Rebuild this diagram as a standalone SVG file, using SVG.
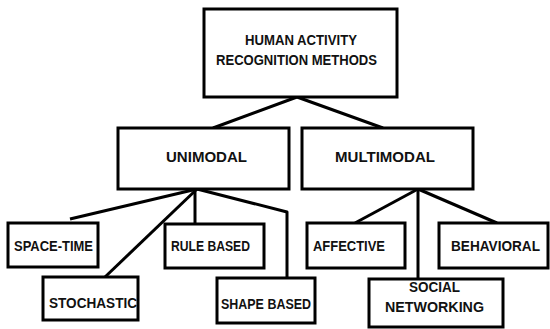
<svg xmlns="http://www.w3.org/2000/svg" width="550" height="329" viewBox="0 0 550 329">
  <style>
    .box { fill: #ffffff; stroke: #000000; stroke-width: 3; }
    .lbl { font-family: "Liberation Sans", Arial, sans-serif; font-weight: bold; font-size: 14px; fill: #111111; }
    .link { fill: none; stroke: #000000; stroke-width: 3; stroke-linejoin: round; }
  </style>
  <rect width="550" height="329" fill="#ffffff"/>

  <g id="connectors">
    <polyline class="link" points="213,128 297,97 383,128"/>
    <line class="link" x1="197" y1="189" x2="70" y2="219"/>
    <line class="link" x1="197" y1="189" x2="105" y2="277"/>
    <line class="link" x1="195" y1="189" x2="195" y2="224"/>
    <polyline class="link" points="197,189 287,212 287,278"/>
    <line class="link" x1="418" y1="189" x2="355" y2="223"/>
    <line class="link" x1="418" y1="189" x2="418" y2="279"/>
    <line class="link" x1="418" y1="189" x2="497" y2="223"/>
  </g>

  <g id="root">
    <rect class="box" x="204" y="9" width="193" height="88"/>
    <text class="lbl" x="245" y="45" textLength="112" lengthAdjust="spacingAndGlyphs">HUMAN ACTIVITY</text>
    <text class="lbl" x="216" y="65" textLength="161" lengthAdjust="spacingAndGlyphs">RECOGNITION METHODS</text>
  </g>

  <g id="unimodal">
    <rect class="box" x="118" y="128" width="171" height="61"/>
    <text class="lbl" x="166" y="162" textLength="81" lengthAdjust="spacingAndGlyphs">UNIMODAL</text>
  </g>

  <g id="multimodal">
    <rect class="box" x="302" y="128" width="171" height="61"/>
    <text class="lbl" x="335" y="162" textLength="100" lengthAdjust="spacingAndGlyphs">MULTIMODAL</text>
  </g>

  <g id="space-time">
    <rect class="box" x="8" y="223" width="90" height="44"/>
    <text class="lbl" x="14" y="251" textLength="79" lengthAdjust="spacingAndGlyphs">SPACE-TIME</text>
  </g>

  <g id="stochastic">
    <rect class="box" x="43" y="277" width="95" height="43"/>
    <text class="lbl" x="49" y="308" textLength="88" lengthAdjust="spacingAndGlyphs">STOCHASTIC</text>
  </g>

  <g id="rule-based">
    <rect class="box" x="165" y="224" width="99" height="44"/>
    <text class="lbl" x="171" y="251" textLength="79" lengthAdjust="spacingAndGlyphs">RULE BASED</text>
  </g>

  <g id="shape-based">
    <rect class="box" x="217" y="278" width="98" height="45"/>
    <text class="lbl" x="221" y="309" textLength="90" lengthAdjust="spacingAndGlyphs">SHAPE BASED</text>
  </g>

  <g id="affective">
    <rect class="box" x="307" y="223" width="98" height="45"/>
    <text class="lbl" x="313" y="251" textLength="72" lengthAdjust="spacingAndGlyphs">AFFECTIVE</text>
  </g>

  <g id="behavioral">
    <rect class="box" x="439" y="223" width="109" height="45"/>
    <text class="lbl" x="451" y="251" textLength="89" lengthAdjust="spacingAndGlyphs">BEHAVIORAL</text>
  </g>

  <g id="social-networking">
    <rect class="box" x="369" y="279" width="134" height="48"/>
    <text class="lbl" x="409" y="292" textLength="51" lengthAdjust="spacingAndGlyphs">SOCIAL</text>
    <text class="lbl" x="385" y="312" textLength="99" lengthAdjust="spacingAndGlyphs">NETWORKING</text>
  </g>
</svg>
